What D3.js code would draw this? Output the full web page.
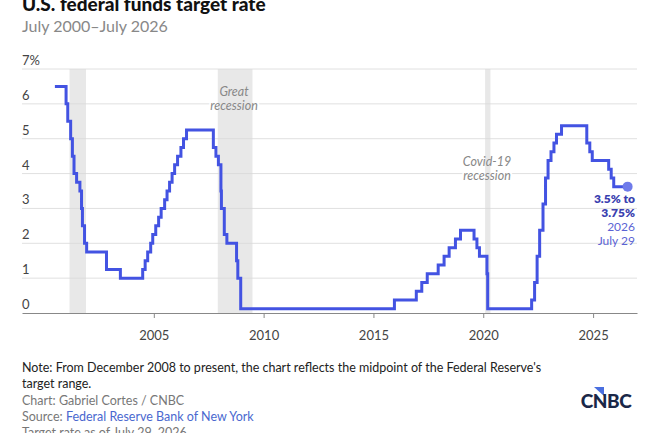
<!DOCTYPE html>
<html lang="en">
<head>
    <meta charset="UTF-8">
    <title>U.S. federal funds target rate</title>
    <script src="https://d3js.org/d3.v7.min.js"></script>
    <style>
        body { margin: 0; background: #fff; }
        svg { font-family: Lato, "Open Sans", sans-serif; }
        .grid line { stroke: #e0e0e0; stroke-width: 1; }
        .ylab { font-size: 13px; fill: #444; }
        .xaxis text { font-size: 13px; fill: #444; }
        .note { font-size: 12.5px; fill: #222; }
        .credit { font-size: 12.5px; fill: #777; }
        .rec { font-size: 12.5px; font-style: italic; fill: #888; text-anchor: middle; }
    </style>
</head>
<body>
<script>
    const width = 650;
    const height = 433;

    // rate changes (date of change, new target / midpoint, %)
    const changeDates = [
        "2000-07-01",
        "2001-01-03", "2001-01-31", "2001-03-20", "2001-04-18", "2001-05-15", "2001-06-27",
        "2001-08-21", "2001-09-17", "2001-10-02", "2001-11-06", "2001-12-11",
        "2002-11-06", "2003-06-25",
        "2004-06-30", "2004-08-10", "2004-09-21", "2004-11-10", "2004-12-14",
        "2005-02-02", "2005-03-22", "2005-05-03", "2005-06-30", "2005-08-09", "2005-09-20",
        "2005-11-01", "2005-12-13", "2006-01-31", "2006-03-28", "2006-05-10", "2006-06-29",
        "2007-09-18", "2007-10-31", "2007-12-11",
        "2008-01-22", "2008-01-30", "2008-03-18", "2008-04-30", "2008-10-08", "2008-10-29", "2008-12-16",
        "2015-12-16", "2016-12-14",
        "2017-03-15", "2017-06-14", "2017-12-13",
        "2018-03-21", "2018-06-13", "2018-09-26", "2018-12-19",
        "2019-08-01", "2019-09-18", "2019-10-30",
        "2020-03-03", "2020-03-15",
        "2022-03-16", "2022-05-04", "2022-06-15", "2022-07-27", "2022-09-21", "2022-11-02", "2022-12-14",
        "2023-02-01", "2023-03-22", "2023-05-03", "2023-07-26",
        "2024-09-18", "2024-11-07", "2024-12-18",
        "2025-09-17", "2025-10-29", "2025-12-10",
        "2026-07-29"
    ];
    const rates = [
        6.5,
        6.0, 5.5, 5.0, 4.5, 4.0, 3.75,
        3.5, 3.0, 2.5, 2.0, 1.75,
        1.25, 1.0,
        1.25, 1.5, 1.75, 2.0, 2.25,
        2.5, 2.75, 3.0, 3.25, 3.5, 3.75,
        4.0, 4.25, 4.5, 4.75, 5.0, 5.25,
        4.75, 4.5, 4.25,
        3.5, 3.0, 2.25, 2.0, 1.5, 1.0, 0.125,
        0.375, 0.625,
        0.875, 1.125, 1.375,
        1.625, 1.875, 2.125, 2.375,
        2.125, 1.875, 1.625,
        1.125, 0.125,
        0.375, 0.875, 1.625, 2.375, 3.125, 3.875, 4.375,
        4.625, 4.875, 5.125, 5.375,
        4.875, 4.625, 4.375,
        4.125, 3.875, 3.625,
        3.625
    ];

    const recessions = [
        { start: "2001-03-01", end: "2001-11-30", label: [] },
        { start: "2007-12-01", end: "2009-06-30", label: ["Great", "recession"] },
        { start: "2020-02-01", end: "2020-04-30", label: ["Covid-19", "recession"] }
    ];

    const yTicks = [0, 1, 2, 3, 4, 5, 6, 7];
    const xTickYears = [2005, 2010, 2015, 2020, 2025];
    const endLabel = ["3.5% to", "3.75%", "2026", "July 29"];

    const parse = d3.timeParse("%Y-%m-%d");
    const series = changeDates.map((d, i) => ({ date: parse(d), rate: rates[i] }));

    const svg = d3.select("body").append("svg")
            .attr("width", width).attr("height", height);

    const left = 22, right = 637;
    const x = d3.scaleTime()
            .domain([new Date(1999, 0, 1), new Date(2027, 0, 1)])
            .range([left, right]);
    const y = d3.scaleLinear().domain([0, 7]).range([313, 69]);

    // title
    svg.append("text").attr("x", 22).attr("y", 11)
            .style("font-size", "19px").style("font-weight", 900).style("fill", "#111")
            .text("U.S. federal funds target rate");
    svg.append("text").attr("x", 22).attr("y", 32)
            .style("font-size", "16px").style("fill", "#888")
            .text("July 2000\u2013July 2026");

    // gridlines
    svg.append("g").attr("class", "grid")
            .selectAll("line").data(yTicks.filter(d => d > 0)).enter()
            .append("line")
            .attr("x1", left).attr("x2", right)
            .attr("y1", d => y(d)).attr("y2", d => y(d));

    svg.append("g").selectAll("text").data(yTicks).enter()
            .append("text").attr("class", "ylab")
            .attr("x", 22).attr("y", d => y(d) - 4)
            .text(d => d === 7 ? "7%" : d);

    // white halo behind recession labels (hides gridlines)
    const recLabels = recessions.filter(r => r.label.length);
    const labelPos = { "Great": [234, 96], "Covid-19": [487, 166] };

    function drawRecLabels(halo) {
        recLabels.forEach(r => {
            const p = labelPos[r.label[0]];
            r.label.forEach((t, i) => {
                const el = svg.append("text").attr("class", "rec")
                        .attr("x", p[0]).attr("y", p[1] + i * 14)
                        .text(t);
                if (halo) el.style("fill", "#fff").style("stroke", "#fff").style("stroke-width", 4);
            });
        });
    }
    drawRecLabels(true);

    // recession bands
    svg.append("g").selectAll("rect").data(recessions).enter()
            .append("rect")
            .attr("x", d => x(parse(d.start)))
            .attr("width", d => x(parse(d.end)) - x(parse(d.start)))
            .attr("y", y(7))
            .attr("height", y(0) - y(7))
            .style("fill", "#d9d9d9")
            .style("fill-opacity", 0.6);

    drawRecLabels(false);

    // x axis
    const xAxis = d3.axisBottom(x)
            .tickValues(xTickYears.map(yr => new Date(yr, 0, 1)))
            .tickFormat(d3.timeFormat("%Y"))
            .tickSize(5).tickSizeOuter(0);
    const gx = svg.append("g").attr("class", "xaxis")
            .attr("transform", `translate(0,${y(0)})`)
            .call(xAxis);
    gx.select(".domain").style("stroke", "#888").style("stroke-width", 1.2);
    gx.selectAll(".tick line").style("stroke", "#888");
    gx.selectAll(".tick text").attr("dy", "1.45em").style("font-family", "Lato, sans-serif");

    // rate line
    const line = d3.line()
            .x(d => x(d.date))
            .y(d => y(d.rate))
            .curve(d3.curveStepAfter);
    svg.append("path").datum(series)
            .attr("d", line)
            .style("fill", "none")
            .style("stroke", "#4353e2")
            .style("stroke-width", 3)
            .style("stroke-linejoin", "miter");

    // end point
    const last = series[series.length - 1];
    svg.append("circle")
            .attr("cx", x(last.date)).attr("cy", y(last.rate)).attr("r", 5)
            .style("fill", "#6f7bea");

    svg.append("g").selectAll("text").data(endLabel).enter()
            .append("text")
            .attr("x", 635).attr("y", (d, i) => 203 + i * 14)
            .style("text-anchor", "end")
            .style("font-size", "12px")
            .style("font-weight", (d, i) => i < 2 ? 800 : 400)
            .style("fill", (d, i) => i < 2 ? "#3a3fb0" : "#5b63d4")
            .text(d => d);

    // footer
    const foot = svg.append("g");
    foot.append("text").attr("class", "note").attr("x", 22).attr("y", 372)
            .text("Note: From December 2008 to present, the chart reflects the midpoint of the Federal Reserve's");
    foot.append("text").attr("class", "note").attr("x", 22).attr("y", 388)
            .text("target range.");
    foot.append("text").attr("class", "credit").attr("x", 22).attr("y", 405)
            .text("Chart: Gabriel Cortes / CNBC");
    const src = foot.append("text").attr("class", "credit").attr("x", 22).attr("y", 421);
    src.append("tspan").text("Source: ");
    src.append("tspan").style("fill", "#4a68cf").text("Federal Reserve Bank of New York");
    foot.append("text").attr("class", "credit").attr("x", 22).attr("y", 437)
            .text("Target rate as of July 29, 2026");

    // CNBC logo
    const logo = svg.append("g");
    logo.append("path")
            .attr("d", "M594,387 L604,387 L604,396 Z")
            .style("fill", "#4a6fe0");
    logo.append("text").attr("x", 606).attr("y", 408)
            .style("text-anchor", "middle")
            .style("font-size", "19px").style("font-weight", 900)
            .style("letter-spacing", "-0.5px")
            .style("fill", "#1a2748")
            .text("CNBC");
</script>
</body>
</html>
